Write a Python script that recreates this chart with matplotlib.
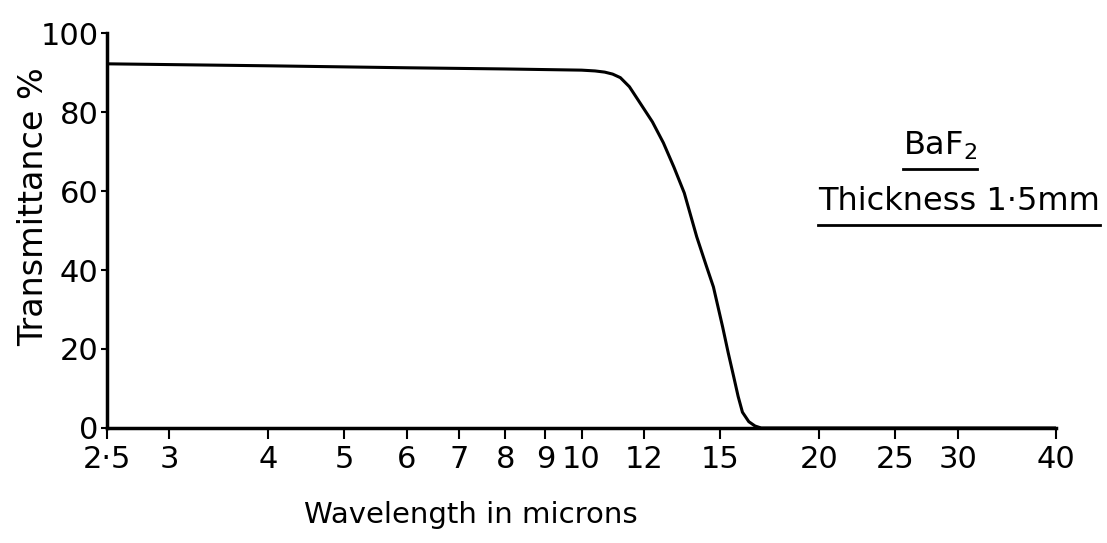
import numpy as np
import matplotlib
matplotlib.use('Agg')
import matplotlib.pyplot as plt
from matplotlib.ticker import FixedLocator, NullLocator

# Transmittance curve (wavelength in microns, %)
wavelength = [2.5, 4.0, 6.0, 8.0, 10.0, 10.4, 10.7, 10.95, 11.2, 11.5, 11.8,
              12.3, 12.7, 13.1, 13.5, 14.0, 14.4, 14.7, 15.1, 15.35, 15.6,
              15.8, 16.0, 16.3, 16.6, 16.9, 18.0, 25.0, 40.0]
transmittance = [92.2, 91.7, 91.2, 90.9, 90.6, 90.4, 90.1, 89.6, 88.7, 86.4,
                 83.0, 77.5, 72.2, 66.0, 59.5, 48.4, 41.0, 35.7, 25.6, 19.0,
                 12.9, 8.0, 4.0, 1.6, 0.5, 0.0, 0.0, 0.0, 0.0]

x_ticks = [2.5, 3, 4, 5, 6, 7, 8, 9, 10, 12, 15, 20, 25, 30, 40]
x_tick_labels = ['2·5', '3', '4', '5', '6', '7', '8', '9', '10', '12', '15',
                 '20', '25', '30', '40']
y_ticks = [0, 20, 40, 60, 80, 100]

plt.rcParams['font.family'] = ['DejaVu Sans']

fig = plt.figure(figsize=(11.07, 5.43), dpi=100)
ax = fig.add_axes([0.0967, 0.2118, 0.8573, 0.7274])

ax.plot(wavelength, transmittance, color='black', linewidth=2.2,
        solid_capstyle='round', solid_joinstyle='round')

ax.set_xscale('log')
ax.set_xlim(2.5, 40)
ax.set_ylim(0, 100)
ax.xaxis.set_major_locator(FixedLocator(x_ticks))
ax.xaxis.set_minor_locator(NullLocator())
ax.set_xticklabels(x_tick_labels)
ax.set_yticks(y_ticks)

for side in ['top', 'right']:
    ax.spines[side].set_visible(False)
for side in ['left', 'bottom']:
    ax.spines[side].set_linewidth(2.5)

ax.tick_params(axis='x', direction='out', length=8, width=1.5,
               labelsize=22, pad=4)
ax.tick_params(axis='y', direction='out', length=4, width=1.5,
               labelsize=22, pad=2)

fig.text(0.425, 0.052, 'Wavelength in microns', fontsize=21,
         ha='center', va='center')
fig.text(0.030, 0.62, 'Transmittance %', fontsize=24, rotation=90,
         ha='center', va='center')

# annotation, underlined by hand
fig.text(0.849, 0.7145, r'BaF$_{2}$', fontsize=23, ha='center',
         va='baseline')
fig.add_artist(plt.Line2D([0.816, 0.883], [0.689, 0.689],
                          color='black', linewidth=2))
fig.text(0.866, 0.6133, 'Thickness 1·5mm', fontsize=23, ha='center',
         va='baseline')
fig.add_artist(plt.Line2D([0.739, 0.994], [0.5856, 0.5856],
                          color='black', linewidth=2))

fig.savefig('out.png', dpi=100, facecolor='white')
